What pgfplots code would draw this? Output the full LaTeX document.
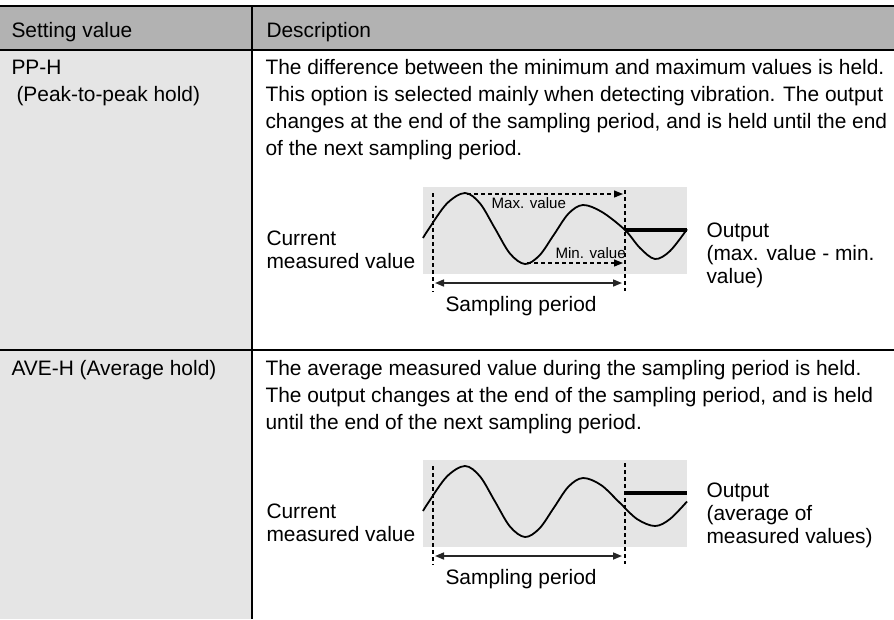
\documentclass[border=0pt]{standalone}
\usepackage{fontspec}
\setmainfont{Liberation Sans}
\usepackage{pgfplots}
\pgfplotsset{compat=1.18}
\usetikzlibrary{arrows.meta}
\definecolor{hdr}{HTML}{B2B2B2}
\definecolor{lgray}{HTML}{E5E5E5}
\newcommand\msz{\fontsize{20.9}{25}\selectfont}
\newcommand\ssz{\fontsize{15.1}{18}\selectfont}
\begin{document}
\begin{tikzpicture}
\path[use as bounding box] (0,0) rectangle (894pt,619pt);
\begin{axis}[at={(0,0)},anchor=south west,
  width=894pt,height=619pt,scale only axis,
  xmin=0,xmax=894,ymin=0,ymax=619,y dir=reverse,
  hide axis,clip=false,
  every node/.append style={inner sep=0pt,outer sep=0pt}]
% backgrounds
\fill[hdr] (axis cs:0,6) rectangle (axis cs:894,50);
\fill[lgray] (axis cs:0,50) rectangle (axis cs:252,619);
\fill[lgray] (axis cs:423,187) rectangle (axis cs:687,274);
\fill[lgray] (axis cs:423,460) rectangle (axis cs:687,547);
% rules
\draw[line width=2.5pt] (axis cs:0,6) -- (axis cs:894,6);
\draw[line width=2.5pt] (axis cs:0,50) -- (axis cs:894,50);
\draw[line width=1.3pt] (axis cs:252,6) -- (axis cs:252,619);
\draw[line width=1.3pt] (axis cs:0,350) -- (axis cs:894,350);
% header
\node[anchor=base west,font=\msz] at (axis cs:8,37) {Setting value};
\node[anchor=base west,font=\msz] at (axis cs:263,37) {Description};
% row 1
\node[anchor=base west,font=\msz] at (axis cs:8,74) {PP-H};
\node[anchor=base west,font=\msz] at (axis cs:13,101) {(Peak-to-peak hold)};
\node[anchor=base west,font=\msz] at (axis cs:262,74) {The difference between the minimum and maximum values is held.};
\node[anchor=base west,font=\msz] at (axis cs:262,101) {This option is selected mainly when detecting vibration. The output};
\node[anchor=base west,font=\msz] at (axis cs:262,128) {changes at the end of the sampling period, and is held until the end};
\node[anchor=base west,font=\msz] at (axis cs:262,155) {of the next sampling period.};
% row 2
\node[anchor=base west,font=\msz] at (axis cs:8,375) {AVE-H (Average hold)};
\node[anchor=base west,font=\msz] at (axis cs:262,375) {The average measured value during the sampling period is held.};
\node[anchor=base west,font=\msz] at (axis cs:262,402) {The output changes at the end of the sampling period, and is held};
\node[anchor=base west,font=\msz] at (axis cs:262,429) {until the end of the next sampling period.};
% diagram 1 labels
\node[anchor=base west,font=\msz] at (axis cs:263,245) {Current};
\node[anchor=base west,font=\msz] at (axis cs:263,268) {measured value};
\node[anchor=base west,font=\msz] at (axis cs:703,237) {Output};
\node[anchor=base west,font=\msz] at (axis cs:703,260) {(max. value - min.};
\node[anchor=base west,font=\msz] at (axis cs:703,283) {value)};
\node[anchor=base west,font=\msz] at (axis cs:442,311) {Sampling period};
\node[anchor=base west,font=\ssz] at (axis cs:488,208) {Max. value};
\node[anchor=base west,font=\ssz] at (axis cs:552,258) {Min. value};
% diagram 2 labels
\node[anchor=base west,font=\msz] at (axis cs:263,518) {Current};
\node[anchor=base west,font=\msz] at (axis cs:263,541) {measured value};
\node[anchor=base west,font=\msz] at (axis cs:703,497) {Output};
\node[anchor=base west,font=\msz] at (axis cs:703,520) {(average of};
\node[anchor=base west,font=\msz] at (axis cs:703,543) {measured values)};
\node[anchor=base west,font=\msz] at (axis cs:442,584) {Sampling period};
% ---- diagram 1 data ----
\addplot[black,line width=1.8pt,smooth,tension=0.55] coordinates {
 (423,238) (429,228.5) (447,203.4) (465,193) (480,203.4) (495,228.5)
 (510,253.6) (525,264) (539.5,255.4) (554,234.5) (568.5,213.6) (583,205)
 (602,212) (625,230) (640,248) (655,259) (670,251) (687,229.2)};
\addplot[black,line width=4.5pt] coordinates {(625,230) (687,230)};
\addplot[black,line width=1.2pt,dash pattern=on 4pt off 3pt] coordinates {(433,193) (433,292)};
\addplot[black,line width=1.2pt,dash pattern=on 4pt off 3pt] coordinates {(625,190) (625,291)};
\addplot[black,line width=1.2pt,dash pattern=on 4pt off 3pt,-{Triangle[length=9pt,width=7pt]}] coordinates {(467,194) (623,194)};
\addplot[black,line width=1.2pt,dash pattern=on 4pt off 3pt,-{Triangle[length=9pt,width=7pt]}] coordinates {(527,263) (623,263)};
\addplot[black!85,line width=1.6pt,{Triangle[length=9pt,width=7pt]}-{Triangle[length=9pt,width=7pt]}] coordinates {(435,283) (622,283)};
% ---- diagram 2 data ----
\addplot[black,line width=1.8pt,smooth,tension=0.55] coordinates {
 (423,511) (429,501.5) (447,476.4) (465,466) (480,476.4) (495,501.5)
 (510,526.6) (525,537) (539.5,528.4) (554,507.5) (568.5,486.6) (583,478)
 (601,485) (619,502) (637,519) (655,526) (670,519) (687,501.5)};
\addplot[black,line width=4.5pt] coordinates {(625,493) (687,493)};
\addplot[black,line width=1.2pt,dash pattern=on 4pt off 3pt] coordinates {(433,466) (433,565)};
\addplot[black,line width=1.2pt,dash pattern=on 4pt off 3pt] coordinates {(625,463) (625,564)};
\addplot[black!85,line width=1.6pt,{Triangle[length=9pt,width=7pt]}-{Triangle[length=9pt,width=7pt]}] coordinates {(435,556) (622,556)};
\end{axis}
\end{tikzpicture}
\end{document}
